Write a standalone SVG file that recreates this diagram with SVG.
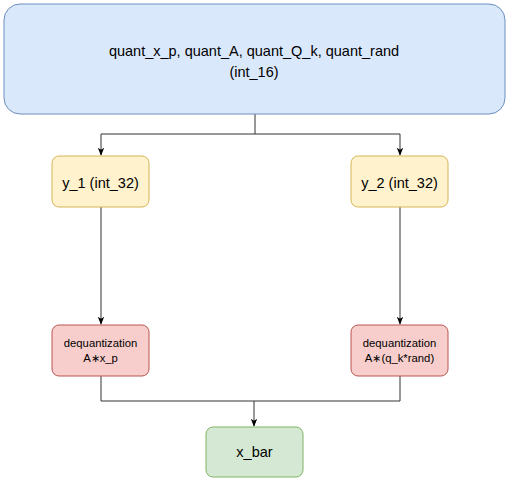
<svg xmlns="http://www.w3.org/2000/svg" width="509" height="482" viewBox="0 0 509 482">
<defs>
<style>
text{font-family:"Liberation Sans",Arial,sans-serif;fill:#000;text-anchor:middle}
.big{font-size:14.5px}
.small{font-size:11.3px}
.blue{fill:#dae8fc;stroke:#6c8ebf;stroke-width:1}
.yellow{fill:#fff2cc;stroke:#d6b656;stroke-width:1}
.red{fill:#f8cecc;stroke:#b85450;stroke-width:1}
.green{fill:#d5e8d4;stroke:#82b366;stroke-width:1}
.edge{fill:none;stroke:#333;stroke-width:1}
</style>
<marker id="arr" viewBox="0 0 10 10" refX="9" refY="5" markerWidth="8" markerHeight="8" markerUnits="userSpaceOnUse" orient="auto">
<path d="M0,1 L10,5 L0,9 L2.5,5 Z" fill="#000"/>
</marker>
</defs>
<rect width="509" height="482" fill="#fff"/>
<g id="connectors">
<path class="edge" d="M255,114 V134 H101 V155" marker-end="url(#arr)"/>
<path class="edge" d="M255,134 H400 V155" marker-end="url(#arr)"/>
<path class="edge" d="M101,207 V324" marker-end="url(#arr)"/>
<path class="edge" d="M400,207 V324" marker-end="url(#arr)"/>
<path class="edge" d="M101,376 V401 H254 V426" marker-end="url(#arr)"/>
<path class="edge" d="M400,376 V401 H254"/>
</g>
<g id="top">
<rect class="blue" x="4" y="4" width="501" height="110" rx="16"/>
<text class="big" x="254" y="56">quant_x_p, quant_A, quant_Q_k, quant_rand</text>
<text class="big" x="254" y="77">(int_16)</text>
</g>
<g id="y1">
<rect class="yellow" x="52" y="156" width="97" height="51" rx="7"/>
<text class="big" x="100.5" y="188">y_1 (int_32)</text>
</g>
<g id="y2">
<rect class="yellow" x="351" y="156" width="97" height="51" rx="7"/>
<text class="big" x="399.5" y="188">y_2 (int_32)</text>
</g>
<g id="deq1">
<rect class="red" x="52" y="325" width="97" height="51" rx="7"/>
<text class="small" x="100.5" y="347">dequantization</text>
<text class="small" x="100.5" y="362">A∗x_p</text>
</g>
<g id="deq2">
<rect class="red" x="351" y="325" width="97" height="51" rx="7"/>
<text class="small" x="399.5" y="347">dequantization</text>
<text class="small" x="399.5" y="362">A∗(q_k*rand)</text>
</g>
<g id="xbar">
<rect class="green" x="206" y="427" width="97" height="50" rx="7"/>
<text class="big" x="254.5" y="457">x_bar</text>
</g>
</svg>
